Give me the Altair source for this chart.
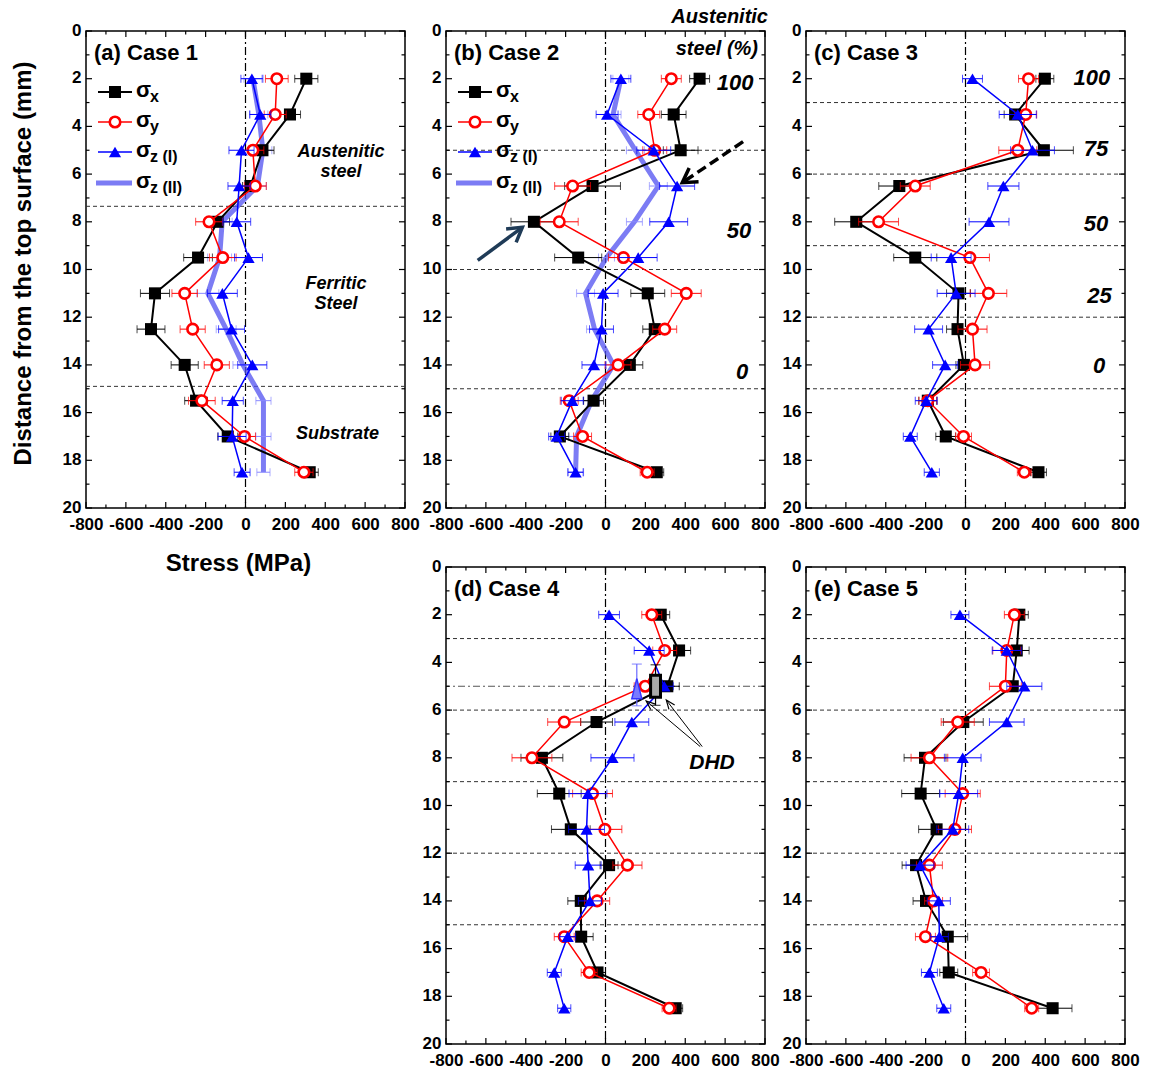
import math
import altair as alt
import pandas as pd

FONT = "Liberation Sans"
W, H = 319, 477
PX_X = W / 1600.0
PX_Y = H / 20.0

depth = [2, 3.5, 5, 6.5, 8, 9.5, 11, 12.5, 14, 15.5, 17, 18.5]
y_major = [0, 2, 4, 6, 8, 10, 12, 14, 16, 18, 20]
y_minor = [1, 3, 5, 7, 9, 11, 13, 15, 17, 19]
x_major = [-800, -600, -400, -200, 0, 200, 400, 600, 800]
x_minor = [-700, -500, -300, -100, 100, 300, 500, 700]

# ---- Case 1 ----
a_sx = [305, 223, 85, 25, -140, -238, -454, -474, -305, -248, -89, 322]
a_sx_err = [58, 53, 58, 40, 60, 72, 73, 70, 68, 57, 50, 43]
a_sy = [157, 149, 37, 49, -183, -114, -305, -265, -144, -219, -5, 293]
a_sy_err = [57, 55, 55, 55, 67, 67, 64, 63, 63, 67, 55, 46]
a_sz1 = [32, 74, -20, -32, -44, 15, -116, -70, 34, -64, -67, -17]
a_sz1_err = [55, 53, 63, 56, 70, 70, 75, 65, 73, 53, 70, 40]
a_sz2 = [37, 67, 87, 60, -117, -130, -189, -97, -13, 90, 90, 90]
a_sz2_err = [45, 45, 45, 45, 50, 60, 55, 50, 50, 38, 38, 33]

# ---- Case 2 ----
b_sx = [472, 342, 377, -65, -359, -137, 212, 247, 122, -60, -229, 257]
b_sx_err = [50, 62, 87, 140, 115, 118, 85, 60, 65, 50, 45, 35]
b_sy = [330, 217, 247, -165, -232, 90, 405, 297, 63, -182, -115, 209]
b_sy_err = [50, 55, 60, 90, 95, 75, 75, 60, 65, 45, 45, 35]
b_sz1 = [77, 8, 242, 359, 317, 164, -12, -20, -58, -167, -245, -150]
b_sz1_err = [50, 55, 85, 88, 95, 95, 75, 60, 60, 55, 40, 38]
b_sz2 = [77, 38, 150, 265, 145, 5, -100, -55, 40, -70, -145, -150]
b_sz2_err = [40, 40, 45, 45, 40, 40, 45, 40, 40, 40, 40, 40]

# ---- Case 3 ----
c_sx = [398, 249, 393, -332, -548, -252, -35, -40, -8, -189, -99, 366]
c_sx_err = [45, 55, 148, 103, 108, 108, 60, 55, 40, 45, 50, 40]
c_sy = [316, 302, 262, -252, -436, 22, 115, 35, 48, -189, -10, 295]
c_sy_err = [50, 55, 95, 75, 100, 98, 92, 73, 73, 45, 40, 35]
c_sz1 = [35, 262, 336, 190, 118, -72, -47, -185, -102, -197, -277, -169]
c_sz1_err = [50, 93, 110, 78, 100, 100, 95, 70, 63, 55, 35, 38]

# ---- Case 4 ----
d_sx = [277, 369, 310, -45, -319, -232, -174, 18, -124, -122, -40, 352]
d_sx_err = [45, 58, 60, 80, 105, 110, 97, 45, 65, 60, 40, 35]
d_sy = [232, 297, 199, -207, -369, -65, -3, 110, -42, -207, -82, 319]
d_sy_err = [50, 60, 55, 83, 100, 100, 85, 73, 63, 50, 40, 35]
d_sz1 = [18, 219, 295, 132, 35, -88, -95, -87, -78, -190, -257, -207]
d_sz1_err = [52, 75, 45, 85, 108, 95, 90, 65, 58, 40, 35, 33]
# DHD points (Case 4): light sigma_z triangle and sigma_x bar
dhd_val = [157, 251]
dhd_depth = [5.1, 5.0]
dhd_lo = [4.07, 4.1]
dhd_hi = [5.82, 5.8]

# ---- Case 5 ----
e_sx = [270, 257, 237, -11, -203, -225, -145, -248, -198, -89, -84, 437]
e_sx_err = [45, 62, 55, 100, 105, 95, 90, 70, 65, 100, 45, 97]
e_sy = [245, 207, 200, -39, -181, -14, -53, -181, -160, -201, 78, 332]
e_sy_err = [50, 70, 80, 83, 92, 88, 83, 65, 45, 50, 42, 35]
e_sz1 = [-28, 207, 295, 207, -14, -34, -64, -228, -134, -131, -181, -109]
e_sz1_err = [45, 73, 88, 87, 92, 95, 80, 70, 58, 45, 40, 35]

# layer boundaries (dashed lines)
a_hlines = [7.35, 14.9]
b_hlines = [5, 10, 15]
cde_hlines = [3, 6, 9, 12, 15]

# annotations
a_note_labels = ["Austenitic", "steel", "Ferritic", "Steel", "Substrate"]
a_note_x = [479, 479, 454, 454, 461]
a_note_y = [5.07, 5.91, 10.61, 11.45, 16.9]
b_pct_labels = ["100", "50", "0"]
b_pct_x = [650, 670, 685]
b_pct_y = [2.18, 8.37, 14.3]
c_pct_labels = ["100", "75", "50", "25", "0"]
c_pct_x = [634, 655, 655, 672, 670]
c_pct_y = [1.96, 4.95, 8.09, 11.1, 14.05]

# current panel's axes (same axis object in every layer, so the layers merge cleanly)
AX = {"x": None, "y": None}


def set_axes(first):
    AX["y"] = alt.Axis(values=y_major, labelPadding=5, labelOffset=-1,
                       title="Distance from the top surface (mm)" if first else None,
                       titleX=-63, titleY=232, titleAngle=270, titleBaseline="middle", titleAlign="center")
    AX["x"] = alt.Axis(values=x_major, labelPadding=8, labelExpr="'' + datum.value",
                       title="Stress (MPa)" if first else None,
                       titleX=152, titleY=55, titleBaseline="middle", titleAlign="center")


def xenc(field):
    return alt.X(field, type="quantitative",
                 scale=alt.Scale(domain=[-800, 800], nice=False, zero=False), axis=AX["x"])


def yenc(field):
    return alt.Y(field, type="quantitative",
                 scale=alt.Scale(domain=[0, 20], nice=False, zero=False, reverse=True), axis=AX["y"])


def frame_layers():
    ymj = alt.Chart(pd.DataFrame({"t": y_major}))
    ymn = alt.Chart(pd.DataFrame({"t": y_minor}))
    xmj = alt.Chart(pd.DataFrame({"t": x_major}))
    xmn = alt.Chart(pd.DataFrame({"t": x_minor}))
    kw = dict(color="black", strokeWidth=1.2)
    return [
        ymj.mark_rule(**kw).encode(y=yenc("t"), x=alt.value(0), x2=alt.value(6)),
        ymj.mark_rule(**kw).encode(y=yenc("t"), x=alt.value(W), x2=alt.value(W - 6)),
        ymn.mark_rule(**kw).encode(y=yenc("t"), x=alt.value(0), x2=alt.value(3.5)),
        ymn.mark_rule(**kw).encode(y=yenc("t"), x=alt.value(W), x2=alt.value(W - 3.5)),
        xmj.mark_rule(**kw).encode(x=xenc("t"), y=alt.value(H), y2=alt.value(H - 6)),
        xmj.mark_rule(**kw).encode(x=xenc("t"), y=alt.value(0), y2=alt.value(6)),
        xmn.mark_rule(**kw).encode(x=xenc("t"), y=alt.value(H), y2=alt.value(H - 3.5)),
        xmn.mark_rule(**kw).encode(x=xenc("t"), y=alt.value(0), y2=alt.value(3.5)),
    ]


def guide_layers(hlines, dashdot=None):
    L = [alt.Chart(pd.DataFrame({"d": hlines})).mark_rule(
        color="#333333", strokeWidth=1, strokeDash=[4, 3]).encode(y=yenc("d"))]
    if dashdot:
        L.append(alt.Chart(pd.DataFrame({"d": dashdot})).mark_rule(
            color="#555555", strokeWidth=1, strokeDash=[7, 3, 2, 3]).encode(y=yenc("d")))
    L.append(alt.Chart(pd.DataFrame({"z": [0]})).mark_rule(
        color="black", strokeWidth=1.2, strokeDash=[8, 3, 2, 3]).encode(x=xenc("z")))
    return L


def series(vals, errs, kind):
    df = pd.DataFrame({"depth": depth, "val": vals,
                       "lo": [v - e for v, e in zip(vals, errs)],
                       "hi": [v + e for v, e in zip(vals, errs)]})
    base = alt.Chart(df)
    if kind == "sx":
        color, ec, lw = "#000000", "#000000", 2
    elif kind == "sy":
        color, ec, lw = "#ff0000", "#ff0000", 1.5
    elif kind == "sz1":
        color, ec, lw = "#0000ff", "#0000ff", 1.5
    else:
        color, ec, lw = "#5050f0", "#8a8aff", 5
    L = [
        base.mark_rule(color=ec, strokeWidth=1).encode(x=xenc("lo"), x2=alt.X2("hi"), y=yenc("depth")),
        base.transform_fold(["lo", "hi"], as_=["k", "xv"]).mark_tick(
            color=ec, orient="vertical", size=8, thickness=1).encode(x=xenc("xv"), y=yenc("depth")),
    ]
    if kind == "sz2":
        L.insert(0, base.mark_line(color=color, strokeWidth=lw, opacity=0.75).encode(
            x=xenc("val"), y=yenc("depth"), order="depth:Q"))
        return L
    L.append(base.mark_line(color=color, strokeWidth=lw).encode(
        x=xenc("val"), y=yenc("depth"), order="depth:Q"))
    if kind == "sx":
        pt = base.mark_point(shape="square", filled=True, color="black", size=145, opacity=1)
    elif kind == "sy":
        pt = base.mark_point(shape="circle", filled=True, fill="white", stroke="#ff0000",
                             strokeWidth=2.6, size=110, opacity=1)
    else:
        pt = base.mark_point(shape="triangle-up", filled=True, color="#0000ff", size=150, opacity=1)
    L.append(pt.encode(x=xenc("val"), y=yenc("depth")))
    return L


one = pd.DataFrame({"k": [0]})


def ptext(text, x, y, size, italic=False, align="left", baseline="middle"):
    kw = dict(text=text, font=FONT, fontSize=size, fontWeight="bold", align=align,
              baseline=baseline, color="black")
    if italic:
        kw["fontStyle"] = "italic"
    return alt.Chart(one).mark_text(**kw).encode(x=alt.value(x), y=alt.value(y))


def legend_layers():
    rows = [61, 91, 121, 152]
    x0, x1, xm, xt = 12, 46, 29, 50
    base = alt.Chart(one)
    L = []
    L.append(base.mark_rule(color="black", strokeWidth=2).encode(
        x=alt.value(x0), x2=alt.value(x1), y=alt.value(rows[0])))
    L.append(base.mark_point(shape="square", filled=True, color="black", size=145, opacity=1).encode(
        x=alt.value(xm), y=alt.value(rows[0])))
    L.append(base.mark_rule(color="#ff0000", strokeWidth=1.5).encode(
        x=alt.value(x0), x2=alt.value(x1), y=alt.value(rows[1])))
    L.append(base.mark_point(shape="circle", filled=True, fill="white", stroke="#ff0000",
                             strokeWidth=2.6, size=110, opacity=1).encode(x=alt.value(xm), y=alt.value(rows[1])))
    L.append(base.mark_rule(color="#0000ff", strokeWidth=1.5).encode(
        x=alt.value(x0), x2=alt.value(x1), y=alt.value(rows[2])))
    L.append(base.mark_point(shape="triangle-up", filled=True, color="#0000ff", size=150, opacity=1).encode(
        x=alt.value(xm), y=alt.value(rows[2])))
    L.append(base.mark_rule(color="#5050f0", strokeWidth=5, opacity=0.75).encode(
        x=alt.value(x0 - 2), x2=alt.value(x1), y=alt.value(rows[3])))
    subs = ["x", "y", "z (I)", "z (II)"]
    for r, s in zip(rows, subs):
        L.append(ptext("σ", xt, r + 5, 22, baseline="alphabetic"))
        L.append(ptext(s, xt + 14, r + 10, 16, baseline="alphabetic"))
    return L


def data_text(labels, xs, ys, size):
    df = pd.DataFrame({"label": labels, "x": xs, "y": ys})
    return alt.Chart(df).mark_text(font=FONT, fontSize=size, fontWeight="bold", fontStyle="italic",
                                   align="center", baseline="middle", color="black").encode(
        x=xenc("x"), y=yenc("y"), text="label:N")


def arrow(x0, y0, x1, y1, color, width, head_path, head_size, head_width, dash=None):
    df = pd.DataFrame({"x0": [x0], "y0": [y0], "x1": [x1], "y1": [y1]})
    ang = math.degrees(math.atan2((y1 - y0) * PX_Y, (x1 - x0) * PX_X)) % 360
    kw = dict(color=color, strokeWidth=width)
    if dash:
        kw["strokeDash"] = dash
    line = alt.Chart(df).mark_rule(**kw).encode(
        x=xenc("x0"), x2=alt.X2("x1"), y=yenc("y0"), y2=alt.Y2("y1"))
    head = alt.Chart(df).mark_point(shape=head_path, filled=False, stroke=color, strokeWidth=head_width,
                                    size=head_size, angle=ang, opacity=1, strokeJoin="miter").encode(
        x=xenc("x1"), y=yenc("y1"))
    return [line, head]


def panel(label, hlines, sx, sy, sz1, sz2=None, extra_fn=None, dashdot=None, legend=False):
    L = guide_layers(hlines, dashdot) + frame_layers()
    if sz2 is not None:
        L += series(sz2[0], sz2[1], "sz2")
    L += series(sx[0], sx[1], "sx")
    L += series(sy[0], sy[1], "sy")
    L += series(sz1[0], sz1[1], "sz1")
    if extra_fn:
        L += extra_fn()
    if legend:
        L += legend_layers()
    L.append(ptext(label, 8, 22, 22))
    return alt.layer(*L).properties(width=W, height=H)


# panel (a)
set_axes(True)
pa = panel("(a) Case 1", a_hlines, (a_sx, a_sx_err), (a_sy, a_sy_err), (a_sz1, a_sz1_err),
           (a_sz2, a_sz2_err), legend=True,
           extra_fn=lambda: [data_text(a_note_labels, a_note_x, a_note_y, 18)])


# panel (b)
def b_extra():
    L = [data_text(b_pct_labels, b_pct_x, b_pct_y, 22),
         ptext("Austenitic", 322, -14, 20, italic=True, align="right"),
         ptext("steel (%)", 312, 18, 20, italic=True, align="right")]
    L += arrow(690, 4.64, 385, 6.36, "black", 3.5, "M-2,-1.2L0,0L-2,1.2", 196, 3.5, dash=[10, 5])
    L += arrow(-641, 9.62, -417, 8.23, "#1f3b57", 3.5, "M-2,-1.2L0,0L-2,1.2", 196, 3.5)
    return L


set_axes(False)
pb = panel("(b) Case 2", b_hlines, (b_sx, b_sx_err), (b_sy, b_sy_err), (b_sz1, b_sz1_err),
           (b_sz2, b_sz2_err), legend=True, extra_fn=b_extra)

# panel (c)
pc = panel("(c) Case 3", cde_hlines, (c_sx, c_sx_err), (c_sy, c_sy_err), (c_sz1, c_sz1_err),
           extra_fn=lambda: [data_text(c_pct_labels, c_pct_x, c_pct_y, 22)])


# panel (d)
def d_extra():
    dhd_df = pd.DataFrame({"val": dhd_val, "depth": dhd_depth, "lo": dhd_lo, "hi": dhd_hi,
                           "kind": ["z", "x"]})
    dz = alt.Chart(dhd_df).transform_filter("datum.kind == 'z'")
    dx = alt.Chart(dhd_df).transform_filter("datum.kind == 'x'")
    L = []
    for base, col in [(dz, "#6a6aff"), (dx, "black")]:
        L.append(base.mark_rule(color=col, strokeWidth=1.2).encode(
            x=xenc("val"), y=yenc("lo"), y2=alt.Y2("hi")))
        L.append(base.transform_fold(["lo", "hi"], as_=["k", "yv"]).mark_tick(
            color=col, orient="horizontal", size=10, thickness=1.2).encode(x=xenc("val"), y=yenc("yv")))
    L.append(dz.mark_point(shape="M0,-1L0.5,1L-0.5,1Z", size=400, filled=True, fill="#7a7aff",
                           stroke="#3535ff", strokeWidth=1.5, opacity=1).encode(
        x=xenc("val"), y=yenc("depth")))
    L.append(dx.mark_point(shape="M-0.45,-1L0.45,-1L0.45,1L-0.45,1Z", size=484, filled=True,
                           fill="#aaaaaa", stroke="black", strokeWidth=3, opacity=1).encode(
        x=xenc("val"), y=yenc("depth")))
    L += arrow(475, 7.53, 204, 5.62, "black", 1, "M-2,-0.8L0,0L-2,0.8", 81, 1.2)
    L += arrow(485, 7.53, 305, 5.58, "black", 1, "M-2,-0.8L0,0L-2,0.8", 81, 1.2)
    L.append(data_text(["DHD"], [534], [8.2], 21))
    return L


pd_ = panel("(d) Case 4", cde_hlines, (d_sx, d_sx_err), (d_sy, d_sy_err), (d_sz1, d_sz1_err),
            extra_fn=d_extra, dashdot=[5])

# panel (e)
pe = panel("(e) Case 5", cde_hlines, (e_sx, e_sx_err), (e_sy, e_sy_err), (e_sz1, e_sz1_err))

# empty slot under panel (a)
ph = alt.Chart(one).mark_point(opacity=0).encode(
    x=alt.X("k:Q", axis=None), y=alt.Y("k:Q", axis=None)
).properties(width=W, height=H, view=alt.ViewBackground(stroke="transparent"))

chart = alt.concat(pa, pb, pc, ph, pd_, pe, columns=3,
                   spacing={"row": 59, "column": 41}, bounds="flush").properties(
    padding={"left": 10, "top": 6, "right": 5, "bottom": 5}
).configure_view(stroke="black", strokeWidth=1.5).configure_axis(
    labelFont=FONT, labelFontSize=17, labelFontWeight="bold", labelColor="black",
    titleFont=FONT, titleFontSize=24, titleFontWeight="bold", titleColor="black",
    ticks=False, domain=False, grid=False, labelOverlap=False, labelFlush=False
)

chart.save("out.html", embed_options={"renderer": "svg", "actions": False})
